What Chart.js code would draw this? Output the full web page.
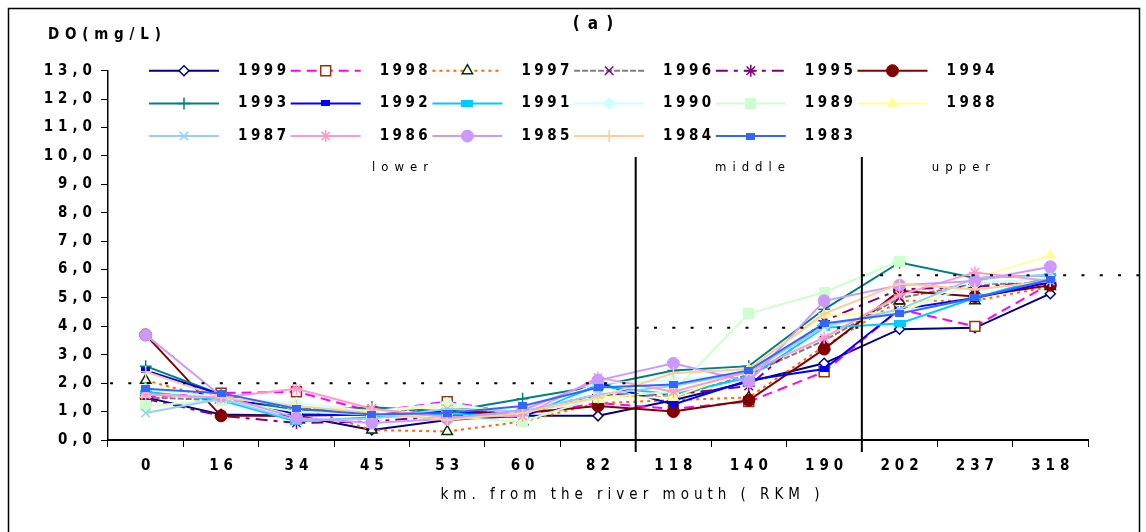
<!DOCTYPE html>
<html><head><meta charset="utf-8">
<script src="https://cdn.jsdelivr.net/npm/chart.js@4/dist/chart.umd.min.js"></script>
<style>html,body{margin:0;padding:0;background:#fff}canvas{display:block}</style>
</head><body>
<canvas id="c" width="1146" height="532"></canvas>
<script>
// ---- data ----
const categories = ['0','16','34','45','53','60','82','118','140','190','202','237','318'];
const yMin = 0, yMax = 13, yStep = 1;
const seriesNames = ['1999','1998','1997','1996','1995','1994','1993','1992','1991','1990','1989','1988','1987','1986','1985','1984','1983'];
const s1999 = [1.5, 0.9, 0.85, 0.35, 0.7, 0.85, 0.85, 1.4, 2.05, 2.7, 3.9, 3.95, 5.15];
const s1998 = [1.5, 1.65, 1.7, 1.0, 1.35, 0.9, 1.3, 1.1, 1.35, 2.4, 4.6, 4.0, 5.5];
const s1997 = [2.1, 1.4, 1.2, 0.35, 0.3, 0.65, 1.3, 1.4, 1.5, 3.3, 4.9, 4.9, 5.4];
const s1996 = [1.5, 1.4, 1.1, 1.1, 1.0, 1.0, 1.6, 1.5, 2.3, 3.5, 5.0, 5.5, 5.5];
const s1995 = [1.45, 0.85, 0.6, 0.65, 0.85, 0.9, 1.6, 1.6, 1.9, 4.2, 5.3, 5.4, 5.55];
const s1994 = [3.7, 0.85, 0.85, 0.9, 1.0, 0.95, 1.2, 1.0, 1.4, 3.2, 5.25, 5.05, 5.45];
const s1993 = [2.6, 1.6, 1.0, 1.15, 1.0, 1.45, 1.9, 2.45, 2.6, 4.6, 6.25, 5.7, 5.8];
const s1992 = [2.45, 1.6, 0.9, 0.9, 1.0, 0.8, 2.0, 1.25, 2.1, 2.5, 4.6, 5.0, 5.55];
const s1991 = [1.7, 1.4, 0.65, 0.8, 0.9, 0.9, 1.9, 1.6, 2.2, 3.95, 4.1, 5.0, 5.75];
const s1990 = [1.8, 1.5, 1.3, 1.0, 1.3, 0.9, 2.0, 2.1, 2.35, 4.0, 4.5, 5.5, 5.7];
const s1989 = [1.2, 1.4, 1.0, 0.9, 0.8, 0.65, 1.5, 1.7, 4.45, 5.2, 6.3, null, null];
const s1988 = [1.6, 1.5, 1.2, 1.0, 1.2, 1.0, 1.5, 1.5, 2.5, 4.4, 4.5, 5.7, 6.5];
const s1987 = [0.95, 1.45, 0.7, 0.75, 1.1, 1.0, 1.6, 1.9, 2.4, 4.0, 4.6, 5.7, 5.8];
const s1986 = [1.6, 1.5, 1.8, 1.1, 0.8, 0.85, 2.2, 1.7, 2.4, 3.6, 5.1, 5.9, 5.6];
const s1985 = [3.7, 1.55, 0.78, 0.6, 0.75, 1.05, 2.1, 2.7, 2.05, 4.9, 5.45, 5.6, 6.1];
const s1984 = [2.4, 1.5, 1.2, 0.95, 0.7, 0.95, 1.5, 2.35, 2.5, 4.45, 5.5, 5.3, 5.6];
const s1983 = [1.8, 1.65, 1.1, 0.9, 0.95, 1.2, 1.85, 1.95, 2.45, 4.1, 4.45, 5.0, 5.65];
const seriesValues = [s1999,s1998,s1997,s1996,s1995,s1994,s1993,s1992,s1991,s1990,s1989,s1988,s1987,s1986,s1985,s1984,s1983];
const reachNames = ['lower','middle','upper'];
const reachThresholds = [2.0, 3.95, 5.8];
const reachBreaks = [6.5, 9.5]; // category boundaries (between 82|118 and 190|202)
const titleText = '(a)';
const yTitleText = 'DO(mg/L)';
const xTitleText = 'km. from the river mouth ( RKM )';

// ---- styles ----
function rectImg(w, h, color) {
  const c = document.createElement('canvas'); c.width = w; c.height = h;
  const x = c.getContext('2d'); x.fillStyle = color; x.fillRect(0, 0, w, h); return c;
}
const styles = [
  {line:'#000080', dash:[], ps:'rectRot', r:5, pb:'#000080', pf:'#ffffff', bw:1.5},
  {line:'#FF00FF', dash:[10,6], ps:'rect', r:7, pb:'#993300', pf:'#ffffff', bw:1.5},
  {line:'#FF6600', dash:[3,4], ps:'triangle', r:6, pb:'#003300', pf:'#ffffff', bw:1.5},
  {line:'#808080', dash:[6,2], ps:'crossRot', r:6, pb:'#800080', pf:'#800080', bw:1.5},
  {line:'#800080', dash:[12,6,4,6], ps:'star', r:6, pb:'#800080', pf:'#800080', bw:1.5},
  {line:'#800000', dash:[], ps:'circle', r:6, pb:'#800000', pf:'#800000', bw:1},
  {line:'#008080', dash:[], ps:'cross', r:6, pb:'#008080', pf:'#008080', bw:1.5},
  {line:'#0000FF', dash:[], ps:rectImg(9,6,'#0000FF'), r:5, pb:'#0000FF', pf:'#0000FF', bw:1},
  {line:'#00CCFF', dash:[], ps:rectImg(12,7,'#00CCFF'), r:5, pb:'#00CCFF', pf:'#00CCFF', bw:1},
  {line:'#CCFFFF', dash:[], ps:'rectRot', r:6, pb:'#CCFFFF', pf:'#CCFFFF', bw:1},
  {line:'#CCFFCC', dash:[], ps:rectImg(11,11,'#CCFFCC'), r:6, pb:'#CCFFCC', pf:'#CCFFCC', bw:1},
  {line:'#FFFF99', dash:[], ps:'triangle', r:6, pb:'#FFFF99', pf:'#FFFF99', bw:1},
  {line:'#99CCFF', dash:[], ps:'crossRot', r:6, pb:'#99CCFF', pf:'#99CCFF', bw:1.5},
  {line:'#FF99CC', dash:[], ps:'star', r:6, pb:'#FF99CC', pf:'#FF99CC', bw:1.5},
  {line:'#CC99FF', dash:[], ps:'circle', r:6, pb:'#CC99FF', pf:'#CC99FF', bw:1},
  {line:'#FFCC99', dash:[], ps:'cross', r:6, pb:'#FFCC99', pf:'#FFCC99', bw:1.5},
  {line:'#3366FF', dash:[], ps:rectImg(9,7,'#3366FF'), r:5, pb:'#3366FF', pf:'#3366FF', bw:1}
];

const FONT = "'Liberation Sans Narrow', 'DejaVu Sans Condensed', 'Arial Narrow', sans-serif";
const TICK_SP = '5px';

const datasets = seriesNames.map((n, i) => ({
  label: n,
  data: seriesValues[i],
  borderColor: styles[i].line,
  backgroundColor: styles[i].pf,
  borderWidth: 2,
  borderDash: styles[i].dash,
  pointStyle: styles[i].ps,
  pointRadius: styles[i].r,
  pointBorderColor: styles[i].pb,
  pointBackgroundColor: styles[i].pf,
  pointBorderWidth: styles[i].bw,
  tension: 0,
  spanGaps: false,
  order: seriesNames.length - i
}));

function spacedText(ctx, text, x, y, font, sp, align, color) {
  ctx.save();
  ctx.font = font; ctx.letterSpacing = sp + 'px';
  ctx.fillStyle = color || '#000'; ctx.textBaseline = 'middle';
  const w = ctx.measureText(text).width - sp;
  let sx = x;
  if (align === 'center') sx = x - w / 2; else if (align === 'right') sx = x - w;
  ctx.textAlign = 'left';
  ctx.fillText(text, sx, y);
  ctx.restore();
}

const deco = {
  id: 'deco',
  beforeUpdate(chart) { chart.ctx.letterSpacing = TICK_SP; },
  beforeDraw(chart) {
    const ctx = chart.ctx; ctx.letterSpacing = TICK_SP;
    ctx.save(); ctx.fillStyle = '#fff'; ctx.fillRect(0, 0, chart.width, chart.height); ctx.restore();
  },
  afterDatasetsDraw(chart) {
    const ctx = chart.ctx, xs = chart.scales.x, ys = chart.scales.y;
    const bx = reachBreaks.map(b => (xs.getPixelForValue(Math.floor(b)) + xs.getPixelForValue(Math.ceil(b))) / 2);
    const segs = [[xs.left + 2, bx[0]], [bx[0], bx[1]], [bx[1], 1140]];
    ctx.save();
    ctx.strokeStyle = '#000'; ctx.lineWidth = 2; ctx.setLineDash([3, 15.3]);
    segs.forEach((s, i) => {
      const y = ys.getPixelForValue(reachThresholds[i]);
      ctx.beginPath(); ctx.moveTo(s[0], y); ctx.lineTo(s[1], y); ctx.stroke();
    });
    ctx.setLineDash([]); ctx.lineWidth = 2;
    bx.forEach(x => { ctx.beginPath(); ctx.moveTo(x, 157); ctx.lineTo(x, 452); ctx.stroke(); });
    ctx.restore();
    const lx = [400, 750, 961];
    reachNames.forEach((n, i) => spacedText(ctx, n, lx[i], 168, "13px " + FONT, 6, 'center'));
  },
  afterDraw(chart) {
    const ctx = chart.ctx;
    ctx.save();
    ctx.strokeStyle = '#000'; ctx.lineWidth = 1.5;
    ctx.beginPath(); ctx.moveTo(8.5, 540); ctx.lineTo(8.5, 8.5); ctx.lineTo(1139.5, 8.5); ctx.lineTo(1139.5, 540); ctx.stroke();
    ctx.restore();
    spacedText(ctx, titleText, 593, 25, "bold 17px " + FONT, 8, 'center');
    spacedText(ctx, yTitleText, 48, 35, "bold 15px " + FONT, 5.8, 'left');
    spacedText(ctx, xTitleText, 630, 495, "15px " + FONT, 5, 'center');
    // legend
    const H = Chart.helpers;
    seriesNames.forEach((n, i) => {
      const r = Math.floor(i / 6), c = i % 6;
      const x0 = 149 + c * 141.7, y0 = 70.7 + r * 32.7;
      const st = styles[i];
      ctx.save();
      ctx.strokeStyle = st.line; ctx.lineWidth = 2; ctx.setLineDash(st.dash);
      ctx.beginPath(); ctx.moveTo(x0, y0); ctx.lineTo(x0 + 70, y0); ctx.stroke();
      ctx.setLineDash([]);
      ctx.strokeStyle = st.pb; ctx.fillStyle = st.pf; ctx.lineWidth = st.bw;
      H.drawPoint(ctx, {pointStyle: st.ps, radius: st.r, rotation: 0, borderWidth: st.bw}, x0 + 35, y0);
      ctx.restore();
      spacedText(ctx, n, x0 + 89, y0, "bold 15px " + FONT, 3.5, 'left');
    });
  }
};

new Chart(document.getElementById('c'), {
  type: 'line',
  data: { labels: categories, datasets },
  options: {
    responsive: false,
    animation: false,
    events: [],
    layout: { padding: { left: 0, right: 58, top: 70.7, bottom: 0 } },
    plugins: { legend: { display: false }, title: { display: false }, tooltip: { enabled: false } },
    scales: {
      x: {
        type: 'category', offset: true,
        grid: { offset: true, drawOnChartArea: false, tickLength: 7, tickColor: '#000', tickWidth: 1 },
        border: { color: '#000', width: 2 },
        ticks: { color: '#000', font: { family: FONT, size: 15, weight: 'bold' }, padding: 10, labelOffset: 2.5, maxRotation: 0, autoSkip: false },
        afterFit(s) { s.height = 92; }
      },
      y: {
        min: yMin, max: yMax,
        grid: { drawOnChartArea: false, tickLength: 7, tickColor: '#000', tickWidth: 1 },
        border: { color: '#000', width: 1.5 },
        ticks: { stepSize: yStep, color: '#000', font: { family: FONT, size: 15, weight: 'bold' }, padding: 4,
          callback: v => v.toFixed(1).replace('.', ',') },
        afterFit(s) { s.width = 108; }
      }
    }
  },
  plugins: [deco]
});
</script>
</body></html>
